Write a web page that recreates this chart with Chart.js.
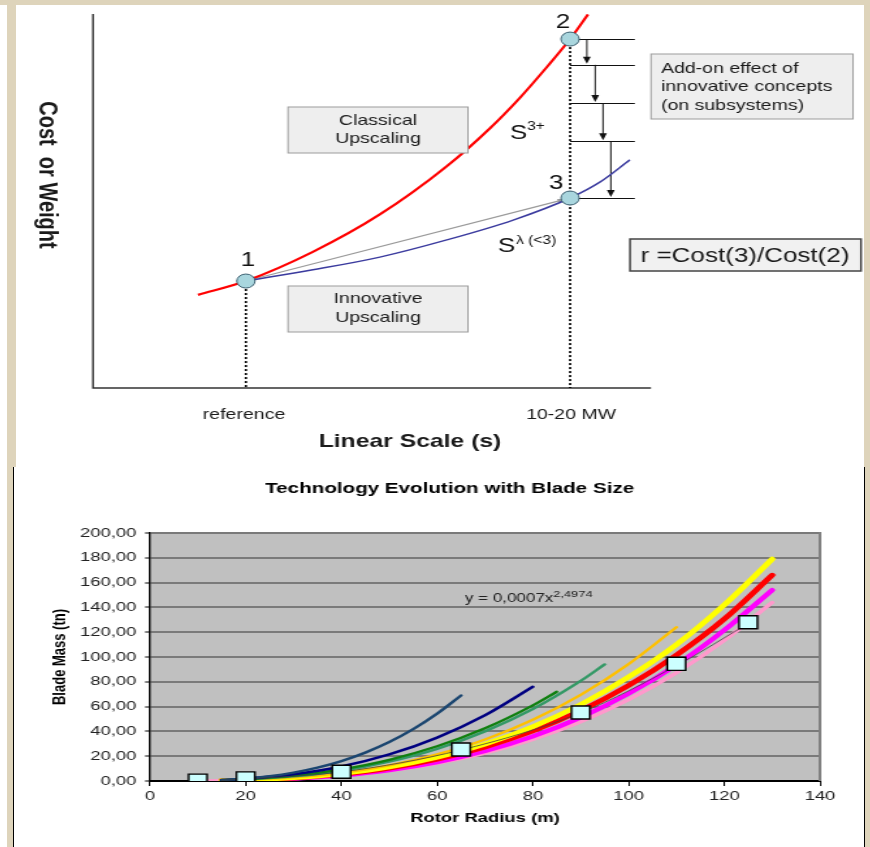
<!DOCTYPE html>
<html>
<head>
<meta charset="utf-8">
<title>Upscaling and blade mass</title>
<script src="https://cdn.jsdelivr.net/npm/chart.js@4.4.0/dist/chart.umd.min.js"></script>
<style>
  html, body { margin: 0; padding: 0; }
  body { width: 870px; height: 847px; background: #ded4bb; position: relative; overflow: hidden; }
  .strip { position: absolute; left: 0; top: 5px; width: 7px; height: 842px; background: #fff; }
  .topPanel { position: absolute; left: 16px; top: 5px; width: 848px; height: 462px; background: #fff; }
  .botPanel { position: absolute; left: 13px; top: 467px; width: 850px; height: 380px; background: #fff;
              border-left: 1px solid #000; border-right: 1px solid #000; }
  .wrap { position: absolute; transform-origin: 0 0; }
  #wrapTop { left: 16px; top: 5px; transform: scaleX(1.3006); }
  #wrapBot { left: 14px; top: 467px; transform: scaleX(1.419); }
  canvas { display: block; }
</style>
</head>
<body>
<div class="strip"></div>
<div class="topPanel"></div>
<div class="botPanel"></div>
<div class="wrap" id="wrapTop"><canvas id="concept" width="652" height="455"></canvas></div>
<div class="wrap" id="wrapBot"><canvas id="blades" width="599" height="380"></canvas></div>
<script>
const family = '"Liberation Sans", Arial, Helvetica, sans-serif';
Chart.defaults.font.family = family;

// ---- upper figure: classical vs innovative upscaling (abstract units 0..10)
const redX = [1.88, 2.74, 3.94, 5.14, 6.34, 7.11, 7.65, 8.15, 8.55, 8.87];
const redY = [2.49, 2.86, 3.64, 4.64, 5.93, 6.94, 7.76, 8.61, 9.33, 9.99];
const blueX = [2.74, 3.94, 5.14, 6.34, 7.53, 8.55, 9.09, 9.62];
const blueY = [2.86, 3.16, 3.50, 3.96, 4.49, 5.08, 5.51, 6.10];
const markX = [2.74, 8.55, 8.55];
const markY = [2.86, 9.33, 5.08];
const markText = ["1", "2", "3"];
const stepY = [9.33, 8.64, 7.62, 6.60, 5.08];
const stepEnd = 9.71;
const arrowX = [8.85, 9.00, 9.14, 9.28];
const chordEnd = [8.42, 5.03];

// ---- lower figure: blade mass (tn) vs rotor radius (m)
const squareX = [10, 20, 40, 65, 90, 110, 125];
const squareY = [0.3, 2.1, 7.5, 25.4, 55.2, 94.5, 128.0];
const trendX = [15, 20, 40, 65, 90, 110, 125];
const trendY = [0.5, 1.6, 7.3, 25.0, 55.0, 93.0, 127.0];
const tealX = [15, 20, 25, 30, 35, 40, 45, 50, 55, 60, 65];
const tealY = [0.85, 2.0, 3.9, 6.8, 10.8, 16.1, 22.9, 31.4, 41.8, 54.3, 69.0];
const navyX = [15, 20, 30, 40, 50, 60, 70, 80];
const navyY = [0.8, 1.8, 5.4, 11.7, 21.4, 35.0, 53.0, 76.0];
const greenX = [15, 20, 30, 40, 50, 60, 70, 80, 85];
const greenY = [0.7, 1.45, 4.3, 9.4, 17.1, 28.0, 42.5, 61.0, 72.0];
const seaX = [15, 20, 30, 40, 50, 60, 70, 80, 90, 95];
const seaY = [0.5, 1.2, 3.7, 8.3, 15.6, 25.9, 40.0, 58.0, 80.7, 94.0];
const goldX = [15, 20, 30, 40, 50, 60, 70, 80, 90, 100, 110];
const goldY = [0.4, 0.9, 2.9, 6.6, 12.6, 21.5, 33.5, 49.4, 69.5, 94.3, 124.0];
const longX = [15, 20, 30, 40, 50, 60, 70, 80, 90, 100, 110, 120, 130];
const yellowY = [0.3, 0.8, 2.6, 5.9, 11.2, 19.0, 29.8, 43.8, 61.7, 83.8, 110.0, 142.0, 179.0];
const redBladeY = [0.3, 0.7, 2.35, 5.4, 10.3, 17.5, 27.4, 40.3, 56.7, 77.0, 101.5, 130.6, 166.0];
const magentaY = [0.2, 0.56, 1.9, 4.5, 8.8, 15.2, 24.1, 36.0, 51.3, 70.4, 93.6, 121.6, 154.0];
const pinkX = [10, 15, 20, 30, 40, 50, 60, 70, 80, 90, 100, 110, 120, 130];
const pinkY = [0.0, 0.2, 0.53, 1.77, 4.2, 8.2, 14.2, 22.5, 33.6, 47.8, 65.6, 87.3, 113.4, 144.0];

const pts = (xs, ys) => xs.map((x, i) => ({ x: x, y: ys[i] }));

// canvases are stretched sideways, like the pasted pictures
const S1 = 848 / 652;
const ax = (a) => (a - 16) / S1;
const ay = (a) => a - 5;

function arrowHead(ctx, x, y, dir, len, half) {
  // dir: angle the arrow points to
  ctx.beginPath();
  ctx.moveTo(x, y);
  ctx.lineTo(x - len * Math.cos(dir) + half * Math.sin(dir), y - len * Math.sin(dir) - half * Math.cos(dir));
  ctx.lineTo(x - len * Math.cos(dir) - half * Math.sin(dir), y - len * Math.sin(dir) + half * Math.cos(dir));
  ctx.closePath();
  ctx.fill();
}

function box(ctx, x1, y1, x2, y2, fill, stroke, lw) {
  ctx.fillStyle = fill;
  ctx.fillRect(ax(x1), ay(y1), ax(x2) - ax(x1), y2 - y1);
  ctx.strokeStyle = stroke;
  ctx.lineWidth = lw;
  ctx.strokeRect(ax(x1), ay(y1), ax(x2) - ax(x1), y2 - y1);
}

const conceptPlugin = {
  id: "concept",
  beforeDatasetsDraw(chart) {
    const { ctx, chartArea: a, scales: { x, y } } = chart;
    ctx.save();
    // axes
    ctx.strokeStyle = "#333";
    ctx.lineWidth = 1.4;
    ctx.beginPath();
    ctx.moveTo(a.left, a.top);
    ctx.lineTo(a.left, a.bottom);
    ctx.lineTo(a.right, a.bottom);
    ctx.stroke();

    // dotted drop lines
    ctx.strokeStyle = "#000";
    ctx.lineWidth = 1.7;
    ctx.setLineDash([2, 2]);
    [0, 1].forEach((i) => {
      ctx.beginPath();
      ctx.moveTo(x.getPixelForValue(markX[i]), y.getPixelForValue(markY[i]));
      ctx.lineTo(x.getPixelForValue(markX[i]), a.bottom);
      ctx.stroke();
    });
    ctx.setLineDash([]);

    // step levels and arrows
    ctx.lineWidth = 1;
    ctx.strokeStyle = "#111";
    ctx.fillStyle = "#111";
    const x0 = x.getPixelForValue(markX[1]);
    const x1 = x.getPixelForValue(stepEnd);
    stepY.forEach((v) => {
      const py = Math.round(y.getPixelForValue(v)) + 0.5;
      ctx.beginPath();
      ctx.moveTo(x0, py);
      ctx.lineTo(x1, py);
      ctx.stroke();
    });
    arrowX.forEach((v, i) => {
      const px = x.getPixelForValue(v);
      const ya = y.getPixelForValue(stepY[i]);
      const yb = y.getPixelForValue(stepY[i + 1]);
      ctx.beginPath();
      ctx.moveTo(px, ya);
      ctx.lineTo(px, yb - 5);
      ctx.stroke();
      arrowHead(ctx, px, yb - 1, Math.PI / 2, 7, 3);
    });

    // chord 1 -> 3
    const cx0 = x.getPixelForValue(markX[0]), cy0 = y.getPixelForValue(markY[0]);
    const cx1 = x.getPixelForValue(chordEnd[0]), cy1 = y.getPixelForValue(chordEnd[1]);
    ctx.strokeStyle = "#9a9a9a";
    ctx.fillStyle = "#9a9a9a";
    ctx.lineWidth = 1.1;
    ctx.beginPath();
    ctx.moveTo(cx0, cy0);
    ctx.lineTo(cx1, cy1);
    ctx.stroke();
    arrowHead(ctx, cx1 + 3, cy1 - 0.8, Math.atan2(cy1 - cy0, cx1 - cx0), 7, 2.5);
    ctx.restore();
  },
  afterDatasetsDraw(chart) {
    const { ctx, scales: { x, y } } = chart;
    ctx.save();
    ctx.fillStyle = "#111";
    ctx.textAlign = "center";
    ctx.textBaseline = "middle";

    // point numbers
    const off = [[2, -21], [-7, -17], [-14, -15]];
    ctx.font = "20px " + family;
    markText.forEach((t, i) => {
      ctx.fillText(t, x.getPixelForValue(markX[i]) + off[i][0] / S1, y.getPixelForValue(markY[i]) + off[i][1]);
    });

    // exponent labels
    ctx.textAlign = "left";
    ctx.font = "20px " + family;
    ctx.fillText("S", ax(510), ay(133));
    ctx.fillText("S", ax(498), ay(246));
    ctx.font = "12px " + family;
    ctx.fillText("3+", ax(527), ay(127));
    ctx.fillText("\u03bb (<3)", ax(516), ay(241));

    // boxes
    box(ctx, 288, 107, 468, 153, "#eeeeee", "#9c9c9c", 1);
    box(ctx, 288, 286, 468, 332, "#eeeeee", "#9c9c9c", 1);
    box(ctx, 651, 54, 853, 119, "#eeeeee", "#9c9c9c", 1);
    box(ctx, 630, 239, 861, 271, "#f1f1f1", "#444", 1.5);

    ctx.fillStyle = "#1a1a1a";
    ctx.textAlign = "center";
    ctx.font = "15px " + family;
    ctx.fillText("Classical", ax(378), ay(121));
    ctx.fillText("Upscaling", ax(378), ay(139));
    ctx.fillText("Innovative", ax(378), ay(299));
    ctx.fillText("Upscaling", ax(378), ay(318));
    ctx.textAlign = "left";
    ctx.fillText("Add-on effect of", ax(661), ay(69));
    ctx.fillText("innovative concepts", ax(661), ay(87));
    ctx.fillText("(on subsystems)", ax(661), ay(106));
    ctx.textAlign = "center";
    ctx.font = "20px " + family;
    ctx.fillText("r =Cost(3)/Cost(2)", ax(745), ay(256));

    // axis captions
    ctx.font = "15px " + family;
    ctx.fillText("reference", ax(244), ay(415));
    ctx.fillText("10-20 MW", ax(571), ay(415));
    ctx.font = "bold 19px " + family;
    ctx.fillText("Linear Scale (s)", ax(410), ay(442));
    ctx.save();
    ctx.translate(ax(46), ay(175));
    ctx.rotate(Math.PI / 2);
    ctx.font = "bold 20px " + family;
    ctx.fillText("Cost  or Weight", 0, 0);
    ctx.restore();
    ctx.restore();
  }
};

new Chart(document.getElementById("concept"), {
  type: "scatter",
  data: {
    datasets: [
      { label: "points", data: pts(markX, markY), pointRadius: 7, pointHoverRadius: 7,
        backgroundColor: "#a9d6de", borderColor: "#3b5f70", borderWidth: 1, order: 0 },
      { label: "S3+", data: pts(redX, redY), showLine: true, pointRadius: 0, borderColor: "#ff0000",
        borderWidth: 2.2, cubicInterpolationMode: "monotone", order: 2 },
      { label: "S lambda", data: pts(blueX, blueY), showLine: true, pointRadius: 0, borderColor: "#3a3a9e",
        borderWidth: 1.5, cubicInterpolationMode: "monotone", order: 1 }
    ]
  },
  options: {
    responsive: false,
    devicePixelRatio: 1,
    animation: false,
    layout: { padding: { left: ax(93), right: 652 - ax(651), top: ay(14), bottom: 455 - ay(388) } },
    scales: {
      x: { type: "linear", min: 0, max: 10, display: false },
      y: { type: "linear", min: 0, max: 10, display: false }
    },
    plugins: { legend: { display: false }, tooltip: { enabled: false } }
  },
  plugins: [conceptPlugin]
});

// ---- lower chart
const bladePlugin = {
  id: "blade",
  beforeDraw(chart) {
    const { ctx, chartArea: a } = chart;
    ctx.save();
    ctx.fillStyle = "#c0c0c0";
    ctx.fillRect(a.left, a.top, a.right - a.left, a.bottom - a.top);
    ctx.restore();
  },
  beforeDatasetsDraw(chart) {
    const { ctx, chartArea: a } = chart;
    ctx.save();
    ctx.strokeStyle = "#808080";
    ctx.lineWidth = 2;
    ctx.beginPath();
    ctx.moveTo(a.right, a.top - 1);
    ctx.lineTo(a.right, a.bottom);
    ctx.stroke();
    ctx.restore();
  },
  afterDraw(chart) {
    const { ctx, scales: { x, y } } = chart;
    ctx.save();
    ctx.fillStyle = "#000";
    ctx.textAlign = "center";
    ctx.textBaseline = "middle";
    ctx.font = "bold 14.5px " + family;
    ctx.fillText("Technology Evolution with Blade Size", 307, 22);
    ctx.fillStyle = "#222";
    ctx.textAlign = "left";
    ctx.font = "12px " + family;
    const tx = x.getPixelForValue(65.8), ty = y.getPixelForValue(147);
    ctx.fillText("y = 0,0007x", tx, ty);
    const w = ctx.measureText("y = 0,0007x").width;
    ctx.font = "9px " + family;
    ctx.fillText("2,4974", tx + w, ty - 4);
    ctx.restore();
  }
};

const curve = (label, xs, ys, color, width, order) => ({
  label: label, data: pts(xs, ys), showLine: true, pointRadius: 0, borderColor: color,
  borderWidth: width, cubicInterpolationMode: "monotone", order: order, borderCapStyle: "round"
});

new Chart(document.getElementById("blades"), {
  type: "scatter",
  data: {
    datasets: [
      { label: "blades", data: pts(squareX, squareY), pointStyle: "rect", pointRadius: 9.2, pointHoverRadius: 9.2,
        backgroundColor: "#ccffff", borderColor: "#000", borderWidth: 1.4, order: 0 },
      curve("trend", trendX, trendY, "#404040", 0.8, 1),
      curve("a", tealX, tealY, "#1b4670", 2.4, 2),
      curve("b", navyX, navyY, "#000080", 2.4, 3),
      curve("c", greenX, greenY, "#108010", 2.4, 4),
      curve("d", seaX, seaY, "#339966", 2.4, 5),
      curve("e", goldX, goldY, "#ffc000", 2.4, 6),
      curve("f", longX, yellowY, "#ffff00", 4.6, 7),
      curve("g", longX, redBladeY, "#ff0000", 4.6, 8),
      curve("h", longX, magentaY, "#ff00ff", 4.2, 9),
      curve("i", pinkX, pinkY, "#ff99cc", 3.4, 10)
    ]
  },
  options: {
    responsive: false,
    devicePixelRatio: 1,
    animation: false,
    layout: { padding: { left: 0, right: 31, top: 66, bottom: 0 } },
    scales: {
      x: {
        type: "linear", min: 0, max: 140,
        afterFit: (s) => { s.height = 66; },
        border: { color: "#000", width: 2 },
        grid: { drawOnChartArea: false, drawTicks: true, tickLength: 5, tickColor: "#000", tickWidth: 1 },
        ticks: { stepSize: 20, color: "#222", font: { size: 13 }, padding: 3 },
        title: { display: true, text: "Rotor Radius (m)", color: "#000",
                 font: { size: 13, weight: "bold" }, padding: { top: 0, bottom: 21 } }
      },
      y: {
        type: "linear", min: 0, max: 200,
        afterFit: (s) => { s.width = 95.8; },
        border: { color: "#000", width: 1.3 },
        grid: { color: "#7a7a7a", lineWidth: 2, tickLength: 3.5, tickColor: "#000", tickWidth: 1 },
        ticks: { stepSize: 20, color: "#222", font: { size: 13 }, padding: 6,
                 callback: (v) => v.toFixed(2).replace(".", ",") },
        title: { display: true, text: "Blade Mass (tn)", color: "#000",
                 font: { size: 13, weight: "bold" }, padding: { top: 24.6, bottom: 0 } }
      }
    },
    plugins: { legend: { display: false }, tooltip: { enabled: false } }
  },
  plugins: [bladePlugin]
});
</script>
</body>
</html>
